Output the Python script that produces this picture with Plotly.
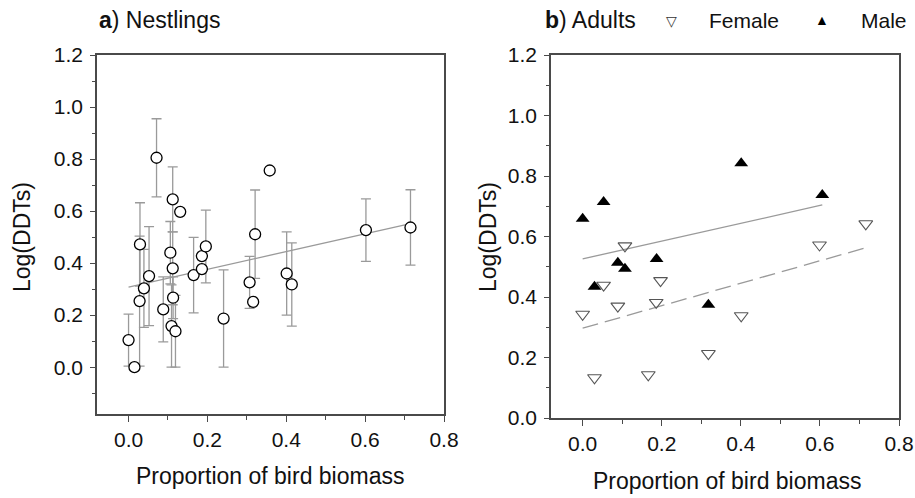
import plotly.graph_objects as go

# ---------------- data ----------------
# Panel a: nestlings (proportion of bird biomass vs Log(DDTs), with SE bars)
nest_x = [0.000, 0.015, 0.029, 0.028, 0.039, 0.052, 0.071, 0.088, 0.106, 0.109,
          0.112, 0.112, 0.113, 0.119, 0.131, 0.165, 0.186, 0.186, 0.196, 0.241,
          0.307, 0.316, 0.321, 0.358, 0.401, 0.414, 0.602, 0.715]
nest_y = [0.104, 0.000, 0.472, 0.254, 0.303, 0.350, 0.805, 0.222, 0.440, 0.158,
          0.645, 0.380, 0.267, 0.138, 0.597, 0.354, 0.427, 0.377, 0.464, 0.187,
          0.326, 0.251, 0.511, 0.756, 0.360, 0.318, 0.527, 0.537]
nest_err = [0.100, None, 0.160, 0.250, 0.150, 0.190, 0.150, 0.125, 0.120, 0.158,
            0.125, 0.140, 0.080, 0.138, None, 0.145, None, None, 0.140, 0.187,
            0.100, None, 0.170, None, 0.160, 0.160, 0.120, 0.145]
nest_fit_intercept, nest_fit_slope = 0.308, 0.341
nest_fit_x = [0.0, 0.715]

# Panel b: adults
male_x = [0.000, 0.030, 0.053, 0.089, 0.107, 0.187, 0.318, 0.401, 0.606]
male_y = [0.659, 0.434, 0.714, 0.513, 0.493, 0.526, 0.374, 0.842, 0.737]
female_x = [0.000, 0.030, 0.053, 0.089, 0.107, 0.166, 0.186, 0.197, 0.318, 0.401, 0.599, 0.716]
female_y = [0.343, 0.133, 0.439, 0.370, 0.569, 0.143, 0.382, 0.454, 0.213, 0.338, 0.572, 0.642]
male_fit_intercept, male_fit_slope = 0.526, 0.294
male_fit_x = [0.0, 0.606]
female_fit_intercept, female_fit_slope = 0.297, 0.371
female_fit_x = [0.0, 0.716]

x_ticks = [0.0, 0.2, 0.4, 0.6, 0.8]
y_ticks = [0.0, 0.2, 0.4, 0.6, 0.8, 1.0, 1.2]

# ---------------- figure ----------------
W, H = 915, 498
FONT = "Liberation Sans, Arial, sans-serif"
AX = "#4a4a4a"
GRAY = "#9a9a9a"
TICK_SIZE = 21
TITLE_SIZE = 23

fig = go.Figure()

# panel a
fig.add_trace(go.Scatter(
    x=nest_fit_x, y=[nest_fit_intercept + nest_fit_slope * v for v in nest_fit_x],
    mode="lines", line=dict(color=GRAY, width=1.3), showlegend=False,
    xaxis="x", yaxis="y"))
fig.add_trace(go.Scatter(
    x=nest_x, y=nest_y, mode="markers", name="Nestlings",
    marker=dict(symbol="circle", size=11, color="white", line=dict(color="black", width=1.3)),
    error_y=dict(type="data", array=nest_err, symmetric=True, color=GRAY, thickness=1.3, width=5),
    showlegend=False, xaxis="x", yaxis="y"))

# panel b
fig.add_trace(go.Scatter(
    x=male_fit_x, y=[male_fit_intercept + male_fit_slope * v for v in male_fit_x],
    mode="lines", line=dict(color=GRAY, width=1.3), showlegend=False,
    xaxis="x2", yaxis="y2"))
fig.add_trace(go.Scatter(
    x=female_fit_x, y=[female_fit_intercept + female_fit_slope * v for v in female_fit_x],
    mode="lines", line=dict(color=GRAY, width=1.3, dash="16px,7px"), showlegend=False,
    xaxis="x2", yaxis="y2"))
fig.add_trace(go.Scatter(
    x=female_x, y=female_y, mode="markers", name="Female",
    marker=dict(symbol="triangle-down-open", size=12, color="#555555", line=dict(width=1.1)),
    showlegend=False, xaxis="x2", yaxis="y2"))
fig.add_trace(go.Scatter(
    x=male_x, y=male_y, mode="markers", name="Male",
    marker=dict(symbol="triangle-up", size=12, color="black"),
    showlegend=False, xaxis="x2", yaxis="y2"))

def xax(domain, anchor):
    return dict(domain=domain, anchor=anchor, range=[-0.08, 0.8], tickvals=x_ticks,
                tickformat=".1f", ticks="outside", ticklen=6, tickwidth=1.3, tickcolor=AX,
                minor=dict(dtick=0.1, tick0=0, ticks="outside", ticklen=4, tickwidth=1.1, tickcolor=AX),
                showline=True, linecolor=AX, linewidth=1.5, mirror=True,
                showgrid=False, zeroline=False, automargin=False,
                tickfont=dict(family=FONT, size=TICK_SIZE, color="#111"))

def yax(domain, anchor, rng):
    return dict(domain=domain, anchor=anchor, range=rng, tickvals=y_ticks,
                tickformat=".1f", ticks="outside", ticklen=5, tickwidth=1.3, tickcolor=AX,
                minor=dict(dtick=0.1, tick0=0, ticks="outside", ticklen=3, tickwidth=1.1, tickcolor=AX),
                showline=True, linecolor=AX, linewidth=1.5, mirror=True,
                showgrid=False, zeroline=False, automargin=False, ticklabelstandoff=3,
                tickfont=dict(family=FONT, size=TICK_SIZE, color="#111"))

ya_dom = [1 - 414 / H, 1 - 55 / H]
yb_dom = [1 - 418 / H, 1 - 55 / H]

fig.update_layout(
    width=W, height=H, margin=dict(l=0, r=0, t=0, b=0),
    paper_bgcolor="white", plot_bgcolor="white",
    font=dict(family=FONT, size=TICK_SIZE, color="#111"),
    xaxis=xax([97 / W, 444 / W], "y"),
    yaxis=yax(ya_dom, "x", [-0.18, 1.2]),
    xaxis2=xax([551 / W, 899 / W], "y2"),
    yaxis2=yax(yb_dom, "x2", [0, 1.2]),
    showlegend=False,
)

ann = [
    dict(text="<b>a</b>) Nestlings", x=97, y=20, xanchor="left", size=TITLE_SIZE),
    dict(text="<b>b</b>) Adults", x=543, y=20, xanchor="left", size=TITLE_SIZE),
    dict(text="\u25BD", x=671, y=21, xanchor="center", size=14, color="#333"),
    dict(text="Female", x=707, y=20, xanchor="left", size=TICK_SIZE),
    dict(text="\u25B2", x=822, y=20, xanchor="center", size=14, color="#000"),
    dict(text="Male", x=859, y=20, xanchor="left", size=TICK_SIZE),
    dict(text="Log(DDTs)", x=22, y=237, xanchor="center", size=TITLE_SIZE, angle=-90),
    dict(text="Log(DDTs)", x=488, y=237, xanchor="center", size=TITLE_SIZE, angle=-90),
    dict(text="Proportion of bird biomass", x=270, y=476, xanchor="center", size=TITLE_SIZE),
    dict(text="Proportion of bird biomass", x=727, y=481, xanchor="center", size=TITLE_SIZE),
]
for a in ann:
    fig.add_annotation(text=a["text"], x=a["x"] / W, y=1 - a["y"] / H, xref="paper", yref="paper",
                       xanchor=a["xanchor"], yanchor="middle", showarrow=False,
                       textangle=a.get("angle", 0),
                       font=dict(family=FONT, size=a["size"], color=a.get("color", "#111")))

fig.write_html("out.html", config={"displayModeBar": False},
               post_script="document.body.style.margin='0';document.body.style.overflow='hidden';")
